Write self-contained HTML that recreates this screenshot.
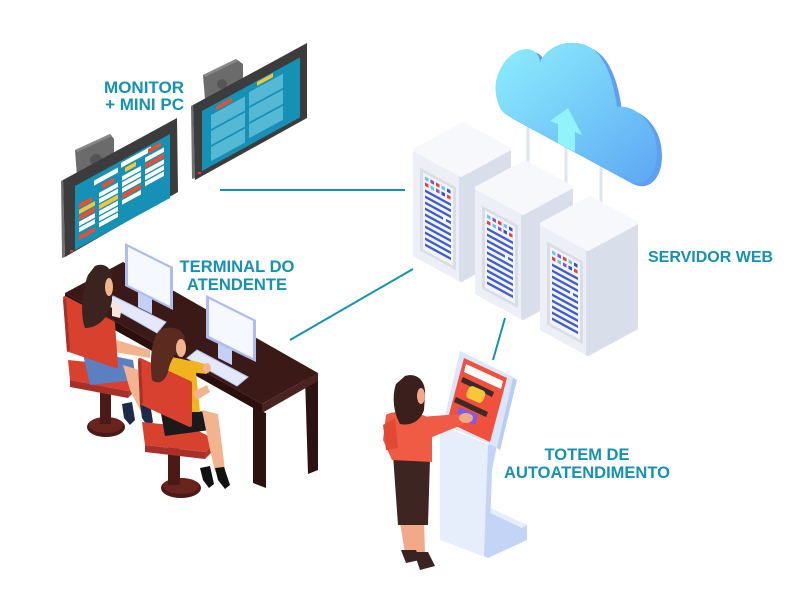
<!DOCTYPE html>
<html><head><meta charset="utf-8"><style>
html,body{margin:0;padding:0;background:#fff;}
svg{display:block;}
text{font-family:"Liberation Sans",Arial,sans-serif;font-weight:bold;fill:#1592b3;}
</style></head><body>
<svg width="800" height="602" viewBox="0 0 800 602" xmlns="http://www.w3.org/2000/svg">
<defs>
<linearGradient id="cg" x1="0" y1="0" x2="1" y2="1">
<stop offset="0" stop-color="#8eeefc"/><stop offset="0.55" stop-color="#72c9f8"/><stop offset="1" stop-color="#5ea6f4"/>
</linearGradient>
</defs>

<!-- connectors -->
<g stroke="#1592b3" stroke-width="2" fill="none">
<line x1="220" y1="190" x2="405" y2="190"/>
<line x1="290" y1="340" x2="413" y2="269"/>
<line x1="505" y1="318" x2="493" y2="360"/>
</g>

<!-- cloud support lines -->
<g stroke="#dfe5ec" stroke-width="3">
<line x1="528" y1="120" x2="528" y2="164"/>
<line x1="566" y1="140" x2="566" y2="190"/>
<line x1="601" y1="160" x2="601" y2="205"/>
</g>

<!-- cloud -->
<path transform="translate(5,3)" fill="#5f9ff0" d="M500,108 C494,95 494,80 500,70 C506,56 520,46 532,50 C537,52 540,58 540,62 C548,46 565,40 582,44 C600,48 612,70 617,107 C632,104 650,118 655,138 C660,158 655,175 645,181 C640,184 634,184 628,181 L510,117 C505,114 502,112 500,108 Z"/>
<path fill="url(#cg)" d="M500,108 C494,95 494,80 500,70 C506,56 520,46 532,50 C537,52 540,58 540,62 C548,46 565,40 582,44 C600,48 612,70 617,107 C632,104 650,118 655,138 C660,158 655,175 645,181 C640,184 634,184 628,181 L510,117 C505,114 502,112 500,108 Z"/>
<polygon fill="#93f3fc" points="568,108 582,135 575,132 575,152 558,143 558,124 550,121"/>

<!-- servers -->
<g id="srv1" transform="translate(415,150)">
<g stroke-linejoin="round" stroke-width="4">
<polygon points="0,0 46,25 46,130 0,105" fill="#eceff6" stroke="#eceff6"/>
<polygon points="46,25 94,-1 94,104 46,130" fill="#d9deeb" stroke="#d9deeb"/>
<polygon points="0,0 48,-26 94,-1 46,25" fill="#f7f8fb" stroke="#f7f8fb"/>
</g>
<g transform="skewY(28.5)">
<rect x="5" y="15" width="36" height="83" fill="#d9dde8"/>
<rect x="8" y="18" width="30" height="77" fill="#f3f4f8"/>
<rect x="10" y="21" width="3.5" height="3.5" fill="#62c8f0"/><rect x="15.5" y="21" width="3.5" height="3.5" fill="#8c4fd6"/><rect x="21" y="21" width="3.5" height="3.5" fill="#e84040"/><rect x="26.5" y="21" width="3.5" height="3.5" fill="#62c8f0"/><rect x="32" y="21" width="3.5" height="3.5" fill="#3d4fc2"/>
<rect x="10" y="27" width="3.5" height="3.5" fill="#e84040"/><rect x="15.5" y="27" width="3.5" height="3.5" fill="#62c8f0"/><rect x="21" y="27" width="3.5" height="3.5" fill="#8c4fd6"/><rect x="26.5" y="27" width="3.5" height="3.5" fill="#3d4fc2"/><rect x="32" y="27" width="3.5" height="3.5" fill="#e84040"/>
<g fill="#3d5bd4">
<rect x="10" y="34" width="26" height="2.6"/><rect x="10" y="40" width="26" height="2.6"/><rect x="10" y="46" width="26" height="2.6"/><rect x="10" y="52" width="18" height="2.6"/><rect x="31" y="52" width="5" height="2.6"/><rect x="10" y="58" width="26" height="2.6"/><rect x="10" y="64" width="26" height="2.6"/><rect x="10" y="70" width="26" height="2.6"/><rect x="10" y="76" width="26" height="2.6"/><rect x="10" y="82" width="26" height="2.6"/><rect x="10" y="88" width="26" height="2.6"/>
</g>
</g>
</g>
<use href="#srv1" transform="translate(62,38)"/>
<use href="#srv1" transform="translate(127,74)"/>

<!-- wall monitor 2 (back) -->
<polygon points="203,75 236,59 243,64 243,96 206,112" fill="#6b6b6b"/>
<polygon points="203,75 236,59 238,61 205,77" fill="#888"/>
<circle cx="222" cy="84" r="5" fill="#555"/>
<polygon points="191,106 193,105 195,178 192,179" fill="#707070"/>
<polygon points="193,105 307,43 307,118 195,180" fill="#3c3c3c"/>
<g transform="translate(202,111) skewY(-28.68)">
<rect x="0" y="0" width="98" height="60" fill="#1790b6"/>
<g fill="#55b9d6">
<rect x="9" y="9" width="34" height="14"/><rect x="47" y="7" width="34" height="14"/>
<rect x="9" y="25" width="34" height="14"/><rect x="47" y="23" width="34" height="14"/>
<rect x="9" y="41" width="34" height="14"/><rect x="47" y="39" width="34" height="14"/>
</g>
<rect x="14" y="3" width="16" height="4" fill="#e8502e"/>
<rect x="55" y="1" width="16" height="4" fill="#f3c53a"/>
</g>
<rect x="198" y="172" width="3" height="2" fill="#e33"/>

<!-- wall monitor 1 (front) -->
<polygon points="75,150 110,134 114,139 114,175 78,190" fill="#6b6b6b"/>
<polygon points="75,150 110,134 112,136 77,152" fill="#888"/>
<circle cx="96" cy="160" r="6" fill="#555"/>
<polygon points="61,181 63,180 65,257 62,258" fill="#707070"/>
<polygon points="63,180 177,118 178,192 65,257" fill="#3c3c3c"/>
<g transform="translate(75,186) skewY(-28.68)">
<rect x="0" y="0" width="95" height="64" fill="#1790b6"/>
<g fill="#ffffff">
<rect x="19" y="5" width="24" height="5"/><rect x="46" y="2" width="30" height="5"/>
<rect x="24" y="20" width="19" height="4.5"/><rect x="24" y="26" width="19" height="4.5"/><rect x="24" y="38" width="19" height="4.5"/><rect x="24" y="44" width="19" height="4.5"/><rect x="24" y="50" width="19" height="4.5"/>
<rect x="4" y="38" width="16" height="4.5"/><rect x="4" y="44" width="16" height="4.5"/>
<rect x="47" y="16" width="19" height="4.5"/><rect x="47" y="22" width="19" height="4.5"/><rect x="47" y="28" width="19" height="4.5"/><rect x="47" y="40" width="19" height="4.5"/>
<rect x="70" y="10" width="19" height="4.5"/><rect x="70" y="22" width="19" height="4.5"/><rect x="70" y="28" width="19" height="4.5"/><rect x="70" y="34" width="19" height="4.5"/>
</g>
<g fill="#e8502e">
<rect x="4" y="20" width="13" height="4.5"/><rect x="4" y="32" width="16" height="4.5"/><rect x="4" y="52" width="16" height="4.5"/>
<rect x="27" y="13" width="12" height="4.5"/><rect x="47" y="34" width="19" height="4.5"/>
<rect x="73" y="3" width="13" height="4.5"/><rect x="70" y="16" width="19" height="4.5"/>
</g>
<g fill="#f3c53a">
<rect x="4" y="26" width="16" height="4.5"/><rect x="24" y="32" width="19" height="4.5"/><rect x="50" y="9" width="11" height="4.5"/>
</g>
</g>
<rect x="70" y="250" width="3" height="2" fill="#e33"/>

<!-- desk -->
<polygon points="305,377 318,373 318,470 308,474" fill="#2c1210"/>
<polygon points="65,293 123,262 318,373 262,404" fill="#3b1916"/>
<polygon points="65,293 262,404 262,413 65,302" fill="#2a0f0d"/>
<polygon points="262,404 318,373 318,381 262,413" fill="#4a2320"/>
<polygon points="253,408 266,413 266,488 253,483" fill="#2c1210"/>

<!-- desk monitors & keyboards -->
<polygon points="138,290 152,297 152,314 138,307" fill="#c5d0f5"/>
<polygon points="125,243 173,267 173,310 125,286" fill="#aebdf0"/>
<polygon points="128,247 170,268 170,306 128,285" fill="#f6f8ff"/>
<polygon points="113,296 166,322 157,333 106,304" fill="#e3e9fb" stroke="#b6c3ef" stroke-width="1"/>
<polygon points="218,338 232,345 232,365 218,358" fill="#c5d0f5"/>
<polygon points="206,295 256,320 256,362 206,338" fill="#aebdf0"/>
<polygon points="209,299 253,321 253,358 209,336" fill="#f6f8ff"/>
<polygon points="197,350 248,377 237,386 187,358" fill="#e3e9fb" stroke="#b6c3ef" stroke-width="1"/>

<!-- chair 1 + woman 1 -->
<ellipse cx="106" cy="427" rx="19" ry="10" fill="#4a1a16"/>
<ellipse cx="106" cy="425" rx="17" ry="8" fill="#6a231d"/>
<rect x="100" y="388" width="11" height="36" fill="#4a1a16"/>
<polygon points="68,360 118,365 140,379 128,391 70,380" fill="#d8412e"/>
<polygon points="70,380 128,391 128,398 70,387" fill="#a8302a"/>
<polygon points="128,391 140,379 140,386 128,398" fill="#b8362a"/>
<path d="M82,350 L133,360 L136,380 L90,385 Z" fill="#5b7fbf"/>
<path d="M123,365 L145,372 L150,408 L140,410 L130,390 Z" fill="#f2b48e"/>
<path d="M116,340 L150,350 L150,358 L114,352 Z" fill="#f2b48e"/>
<polygon points="122,404 132,402 135,420 130,425 124,418" fill="#1d2a4a"/>
<polygon points="140,404 150,403 153,422 148,427 142,418" fill="#1d2a4a"/>
<polygon points="65,298 113,323 116,366 69,350" fill="#d8412e" stroke="#d8412e" stroke-width="4" stroke-linejoin="round"/>
<polygon points="63,300 66,298 70,350 67,352" fill="#a8302a"/>
<path d="M95,266 C104,262 113,268 112,280 L112,300 C110,315 100,328 85,328 C80,315 82,290 88,275 Z" fill="#3b241f"/>
<ellipse cx="109" cy="287" rx="4" ry="9" fill="#f2b48e"/>
<path d="M112,300 L122,306 L120,318 L112,316 Z" fill="#f7e6dc"/>

<!-- chair 2 + woman 2 -->
<ellipse cx="181" cy="488" rx="20" ry="10" fill="#4a1a16"/>
<ellipse cx="181" cy="486" rx="18" ry="8" fill="#6a231d"/>
<rect x="168" y="447" width="12" height="38" fill="#4a1a16"/>
<polygon points="142,422 190,427 217,440 205,452 145,445" fill="#d8412e"/>
<polygon points="145,445 205,452 205,459 145,452" fill="#a8302a"/>
<polygon points="205,452 217,440 217,447 205,459" fill="#b8362a"/>
<path d="M160,408 L208,412 L210,430 L165,436 Z" fill="#1a1a1a"/>
<path d="M202,410 L218,414 L225,470 L215,472 L208,440 Z" fill="#f2b48e"/>
<polygon points="200,468 210,466 214,484 209,488 203,480" fill="#111"/>
<polygon points="215,468 224,467 230,485 225,489 218,480" fill="#111"/>
<path d="M168,356 L195,362 L200,412 L165,412 Z" fill="#f0b41f"/>
<path d="M190,360 L205,364 L207,374 L188,372 Z" fill="#f0b41f"/>
<ellipse cx="207" cy="368" rx="4" ry="5" fill="#f2b48e"/>
<path d="M193,392 L207,385 L210,392 L197,400 Z" fill="#f2b48e"/>
<polygon points="140,360 190,383 190,425 142,403" fill="#d8412e" stroke="#d8412e" stroke-width="4" stroke-linejoin="round"/>
<polygon points="138,362 141,360 143,403 140,405" fill="#a8302a"/>
<path d="M160,330 C172,324 186,330 185,342 L182,348 C176,352 170,360 168,372 C165,382 158,385 152,380 C150,365 150,340 160,330 Z" fill="#5b2b1f"/>
<ellipse cx="181" cy="348" rx="5" ry="9" fill="#f2b48e"/>

<!-- kiosk -->
<polygon points="488,507 527,525 527,540 488,558" fill="#c3d4f7"/>
<polygon points="488,507 527,525 522,528 488,512" fill="#e6eefc"/>
<path d="M440,425 L490,445 L488,558 L440,540 Z" fill="#e6eefc"/>
<path d="M498,440 L492,470 L489,558 L484,556 L488,445 Z" fill="#c3d4f7"/>
<polygon points="460,351 515,378 498,448 443,424" fill="#dbe6fb"/>
<polygon points="513,378 517,380 500,450 497,448" fill="#b8ccf5"/>
<polygon points="464,358 507,378 490,442 447,422" fill="#f0503c"/>
<polygon points="466,364 503,381 501,389 464,372" fill="#ffffff"/>
<polygon points="463,377 494,392 492,397 461,382" fill="#3a2a28"/>
<rect x="467" y="388" width="18" height="13" rx="4" fill="#f7c73b" transform="rotate(24 476 394)"/>
<polygon points="456,397 488,412 486,417 454,402" fill="#3a2a28"/>
<polygon points="459,407 478,415 475,425 456,417" fill="#7a5ee8"/>

<!-- kiosk woman -->
<path d="M400,523 L424,522 L425,553 L405,553 Z" fill="#f1a98a"/>
<path d="M401,550 L416,550 L420,560 L406,563 Z" fill="#3a2420"/>
<path d="M414,552 L428,552 L435,566 L420,570 Z" fill="#3a2420"/>
<path d="M393,455 L430,458 L428,525 L398,525 Z" fill="#3d2521"/>
<path d="M386,415 C392,410 420,410 432,420 L432,462 L392,460 L383,440 Z" fill="#ef5b44"/>
<path d="M383,425 L395,418 L398,448 L386,450 Z" fill="#e04a35"/>
<path d="M420,417 L460,414 L464,424 L430,438 Z" fill="#ef5b44"/>
<ellipse cx="466" cy="418" rx="7" ry="5" fill="#f1a98a"/>
<path d="M405,376 C418,372 426,382 425,395 L424,410 C420,422 410,426 400,424 C393,412 392,395 396,384 Z" fill="#3a1f1c"/>
<ellipse cx="421" cy="396" rx="4" ry="8" fill="#f1a98a"/>

<!-- labels -->
<text x="184" y="93" font-size="17" text-anchor="end">MONITOR</text>
<text x="184" y="110" font-size="17" text-anchor="end">+ MINI PC</text>
<text x="237" y="272" font-size="16.6" text-anchor="middle">TERMINAL DO</text>
<text x="237" y="290" font-size="16.6" text-anchor="middle">ATENDENTE</text>
<text x="648" y="262" font-size="16">SERVIDOR WEB</text>
<text x="587" y="460" font-size="16.5" text-anchor="middle">TOTEM DE</text>
<text x="587" y="478" font-size="16.5" text-anchor="middle">AUTOATENDIMENTO</text>
</svg>
</body></html>
